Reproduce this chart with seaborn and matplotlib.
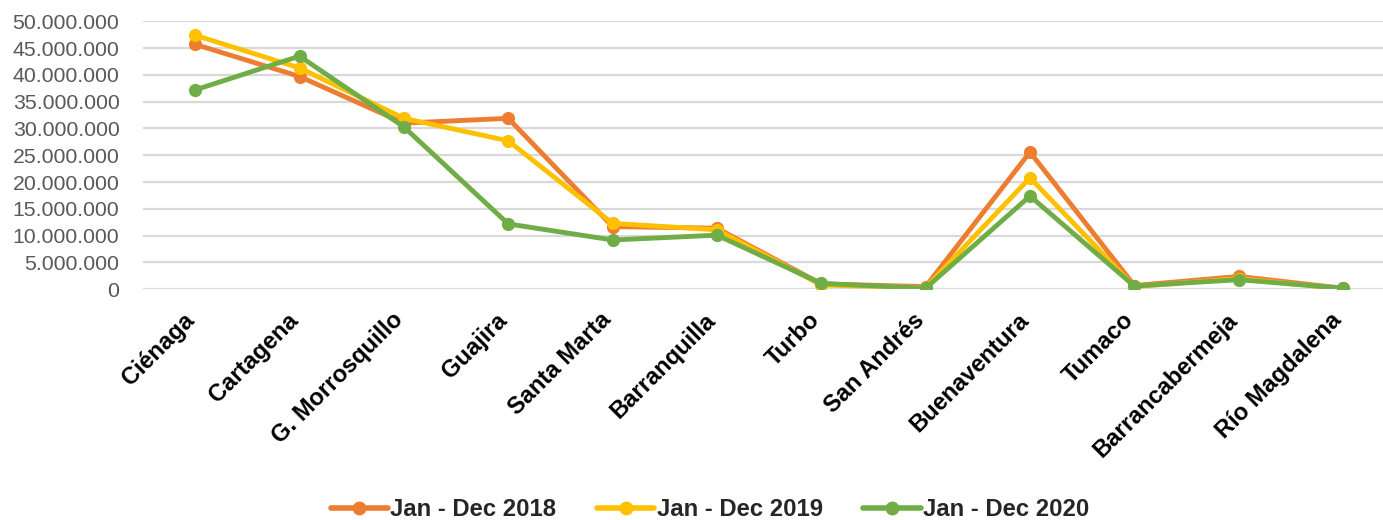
import pandas as pd
import matplotlib.pyplot as plt
import matplotlib.ticker as mticker
import seaborn as sns

# -------------------------------
# Data
# -------------------------------
ports = ["Ciénaga", "Cartagena", "G. Morrosquillo", "Guajira", "Santa Marta",
         "Barranquilla", "Turbo", "San Andrés", "Buenaventura", "Tumaco",
         "Barrancabermeja", "Río Magdalena"]

y2018 = [45.7, 39.7, 31.0, 31.9, 11.7, 11.4, 1.0, 0.5, 25.6, 0.7, 2.4, 0.2]
y2019 = [47.4, 41.3, 31.9, 27.7, 12.3, 11.1, 0.8, 0.3, 20.8, 0.5, 2.0, 0.1]
y2020 = [37.2, 43.5, 30.3, 12.2, 9.2, 10.1, 1.1, 0.2, 17.4, 0.6, 1.8, 0.2]

series_names = ["Jan - Dec 2018", "Jan - Dec 2019", "Jan - Dec 2020"]
colors = ["#ED7D31", "#FFC000", "#70AD47"]

rows = []
for name, vals in zip(series_names, [y2018, y2019, y2020]):
    for p, v in zip(ports, vals):
        rows.append({"Port": p, "Value": v * 1e6, "Series": name})
df = pd.DataFrame(rows)

# -------------------------------
# Style
# -------------------------------
sns.set_style("white")
plt.rcParams['font.family'] = ['Liberation Sans', 'DejaVu Sans']

# -------------------------------
# Plot
# -------------------------------
W, H = 1383, 520
fig = plt.figure(figsize=(W / 100, H / 100), dpi=100)
ax = fig.add_axes([143 / W, 1 - 289.3 / H, 1240 / W, 268 / H])

sns.lineplot(
    data=df, x="Port", y="Value", hue="Series",
    palette=colors, marker="o", markersize=9.5, markeredgewidth=0,
    linewidth=3.5, sort=False, ax=ax
)

ax.set_ylim(0, 50e6)
ax.set_xlim(-0.5, 11.383)
ax.yaxis.set_major_locator(mticker.MultipleLocator(5e6))
ax.yaxis.set_major_formatter(
    mticker.FuncFormatter(lambda v, p: f"{int(v):,}".replace(",", "."))
)
ax.grid(axis="y", color="#D9D9D9", linewidth=1.6)
ax.set_axisbelow(True)
for s in ax.spines.values():
    s.set_visible(False)
ax.tick_params(length=0)
ax.set_xlabel("")
ax.set_ylabel("")

ax.tick_params(axis="y", pad=17, labelsize=15.3, labelcolor="#595959")

ax.set_xticks(range(len(ports)))
ax.set_xticklabels(ports, rotation=45, ha="right", va="baseline",
                   rotation_mode="anchor", fontsize=17,
                   fontweight="bold", color="black")
ax.tick_params(axis="x", pad=23)

leg = ax.legend(
    loc="center", bbox_to_anchor=((710 - 143) / 1240, (289.3 - 510) / 268),
    bbox_transform=ax.transAxes, ncol=3, frameon=False,
    handlelength=2.4, handletextpad=0.1, columnspacing=1.7,
    prop={"weight": "bold", "size": 17.2},
)
for h in leg.get_lines():
    h.set_linewidth(4)
    h.set_markersize(10)

fig.savefig("out.png", dpi=100)
